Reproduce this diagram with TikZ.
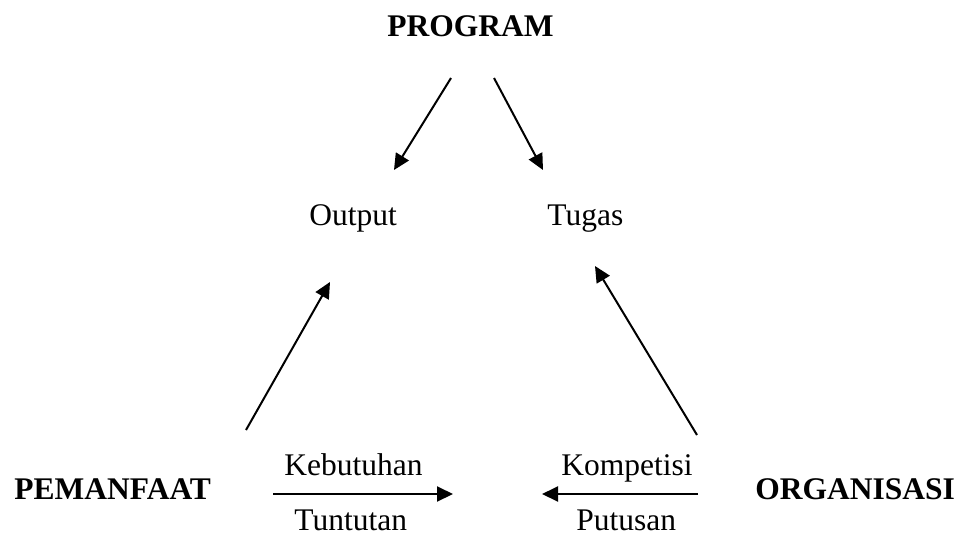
\documentclass[tikz,border=0pt]{standalone}
\usepackage{fontspec}
\setmainfont{Liberation Serif}
\usetikzlibrary{arrows.meta}
\begin{document}
\begin{tikzpicture}[x=0.5pt,y=-0.5pt,
		lbl/.style={inner sep=0pt,anchor=base west,font=\fontsize{15.75}{18}\selectfont},
		pihak/.style={lbl,font=\fontsize{15.75}{18}\selectfont\bfseries},
		panah/.style={line width=1pt,-{Triangle[length=8pt,width=7.5pt]}}]
		\useasboundingbox (0,0) rectangle (961,535);
		% pihak utama
		\node[pihak] (program) at (387,37) {PROGRAM};
		\node[pihak] (pemanfaat) at (14,499) {PEMANFAAT};
		\node[pihak] (organisasi) at (755,499) {ORGANISASI};
		% hasil
		\node[lbl] (output) at (309,225) {Output};
		\node[lbl] (tugas) at (547,225) {Tugas};
		\node[lbl] (kebutuhan) at (284,475) {Kebutuhan};
		\node[lbl] (tuntutan) at (294,530) {Tuntutan};
		\node[lbl] (kompetisi) at (561,475) {Kompetisi};
		\node[lbl] (putusan) at (576,530) {Putusan};
		% ujung panah
		\coordinate (a1) at (451,78); \coordinate (b1) at (394,170);
		\coordinate (a2) at (494,78); \coordinate (b2) at (543,170);
		\coordinate (a3) at (246,430); \coordinate (b3) at (330,282);
		\coordinate (a4) at (697,435); \coordinate (b4) at (595,266);
		\coordinate (a5) at (273,494); \coordinate (b5) at (453,494);
		\coordinate (a6) at (698,494); \coordinate (b6) at (542,494);
		\begin{scope}[panah]
			\draw (a1)--(b1);
			\draw (a2)--(b2);
			\draw (a3)--(b3);
			\draw (a4)--(b4);
			\draw (a5)--(b5);
			\draw (a6)--(b6);
		\end{scope}
	\end{tikzpicture}
\end{document}
